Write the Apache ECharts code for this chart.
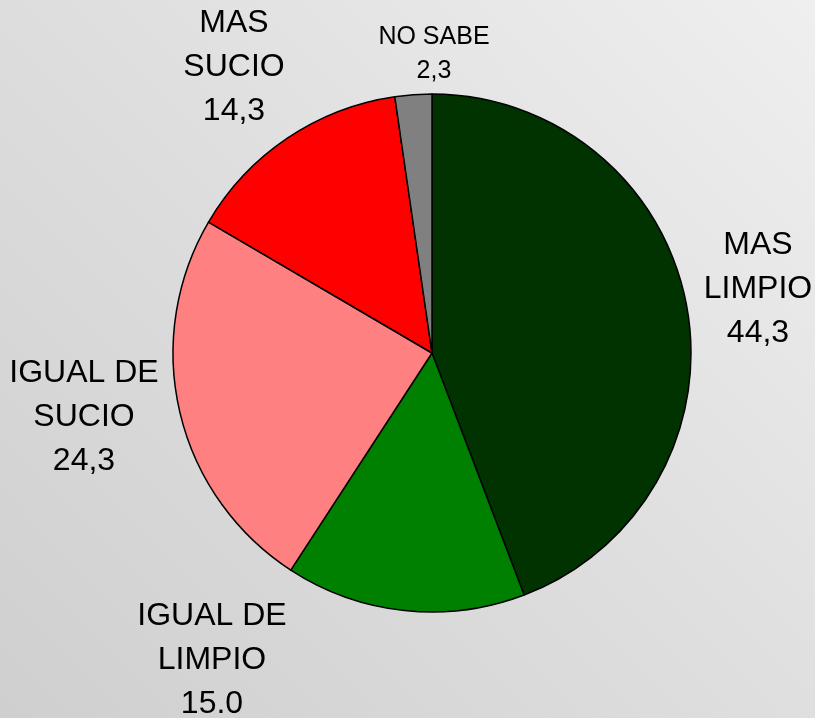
<!DOCTYPE html>
<html>
<head>
<meta charset="utf-8">
<script src="https://cdn.jsdelivr.net/npm/echarts@6/dist/echarts.min.js"></script>
<style>
    html, body { margin: 0; padding: 0; }
    #chart {
        width: 815px;
        height: 718px;
        background: linear-gradient(225deg, #efefef 0%, #dedede 50%, #cfcfcf 100%);
    }
</style>
</head>
<body>
<div id="chart"></div>
<script>
(function () {
    var categories = ['MAS\nLIMPIO', 'IGUAL DE\nLIMPIO', 'IGUAL DE\nSUCIO', 'MAS\nSUCIO', 'NO SABE'];
    var values = [44.3, 15.0, 24.3, 14.3, 2.3];
    // el original muestra "15.0" con punto
    var decimalSep = [',', '.', ',', ',', ','];

    var mycolor = ['#003300', '#008000', '#ff8080', '#ff0000', '#808080'];
    // centro de cada etiqueta (x, y) en pixeles
    var labelPos = [[758, 289], [212, 660], [84, 417], [234, 67], [434, 54]];

    var mychart = echarts.init(document.getElementById('chart'));

    var data = values.map(function (v, i) {
        var item = {
            name: categories[i],
            value: v,
            itemStyle: { color: mycolor[i] }
        };
        if (i === 4) {
            item.label = { fontSize: 25, lineHeight: 34 };
        }
        return item;
    });

    var option = {
        backgroundColor: 'transparent',
        series: [{
            type: 'pie',
            center: [432, 353],
            radius: 259,
            startAngle: 90,
            clockwise: true,
            avoidLabelOverlap: false,
            itemStyle: {
                borderColor: '#000',
                borderWidth: 1.5
            },
            label: {
                show: true,
                position: 'inside',
                color: '#000',
                fontFamily: 'Liberation Sans, Arial, sans-serif',
                fontSize: 32,
                lineHeight: 44,
                align: 'center',
                formatter: function (p) {
                    var txt = p.value.toFixed(1).replace('.', decimalSep[p.dataIndex]);
                    return p.name + '\n' + txt;
                }
            },
            labelLine: { show: false },
            labelLayout: function (params) {
                var pos = labelPos[params.dataIndex];
                return {
                    x: pos[0],
                    y: pos[1],
                    align: 'center',
                    verticalAlign: 'middle'
                };
            },
            emphasis: { disabled: true },
            animation: false,
            data: data
        }]
    };
    mychart.setOption(option);
    window.addEventListener('resize', function () {
        mychart.resize();
    });
})();
</script>
</body>
</html>
